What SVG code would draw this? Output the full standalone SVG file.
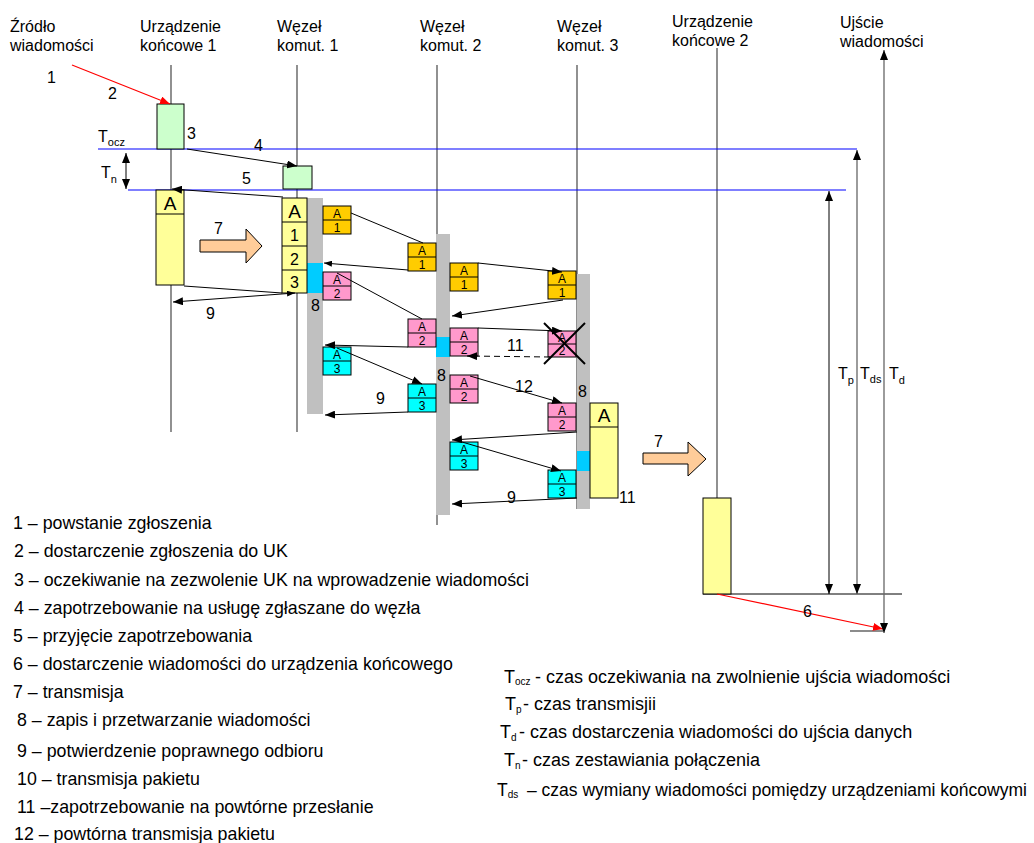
<svg xmlns="http://www.w3.org/2000/svg" width="1034" height="843" viewBox="0 0 1034 843">
  <style>
    text { font-family: "Liberation Sans", Arial, sans-serif; fill: #000; }
    .lbl { font-size: 16px; }
    .num { font-size: 16px; }
    .leg { font-size: 17.8px; }
    .leg2 { font-size: 18px; }
    .leg3 { font-size: 17.5px; }
    .sub { font-size: 11px; }
    .lsub { font-size: 10px; }
    .big { font-size: 19px; text-anchor: middle; }
    .mid { font-size: 16px; text-anchor: middle; }
    .pk { font-size: 12px; text-anchor: middle; }
    .life { stroke: #555; stroke-width: 1.3; fill: none; }
    .blue { stroke: #0000ff; stroke-width: 1.2; fill: none; }
    .ln { stroke: #000; stroke-width: 1; fill: none; }
    .gline { stroke: #666; stroke-width: 1.3; fill: none; }
    .red { stroke: #ff0000; stroke-width: 1.2; fill: none; }
    .box { stroke: #000; stroke-width: 1; }
    .green { fill: #ccffcc; }
    .yellow { fill: #ffff99; }
    .orange { fill: #ffcc00; }
    .pink { fill: #ff99cc; }
    .cyan { fill: #00ffff; }
    .bar { fill: #c0c0c0; }
    .barhi { fill: #00ccff; }
    .arrow7 { fill: #ffcc99; stroke: #000; stroke-width: 1; }
  </style>
  <defs>
    <marker id="ah" viewBox="0 0 10 8" refX="10" refY="4" markerWidth="10" markerHeight="8" markerUnits="userSpaceOnUse" orient="auto-start-reverse">
      <path d="M0,0 L10,4 L0,8 z" fill="#000"/>
    </marker>
    <marker id="ahs" viewBox="0 0 8 6" refX="8" refY="3" markerWidth="8" markerHeight="6" markerUnits="userSpaceOnUse" orient="auto-start-reverse">
      <path d="M0,0 L8,3 L0,6 z" fill="#000"/>
    </marker>
    <marker id="ahr" viewBox="0 0 10 8" refX="10" refY="4" markerWidth="10" markerHeight="8" markerUnits="userSpaceOnUse" orient="auto">
      <path d="M0,0 L10,4 L0,8 z" fill="#ff0000"/>
    </marker>
  </defs>

  <!-- column headings -->
  <g id="headings" class="lbl">
    <text x="10" y="32" class="lbl">Źródło</text>
    <text x="10" y="51" class="lbl">wiadomości</text>
    <text x="140" y="32" class="lbl">Urządzenie</text>
    <text x="140" y="51" class="lbl">końcowe 1</text>
    <text x="277" y="32" class="lbl">Węzeł</text>
    <text x="277" y="51" class="lbl">komut. 1</text>
    <text x="420" y="32" class="lbl">Węzeł</text>
    <text x="420" y="51" class="lbl">komut. 2</text>
    <text x="557" y="32" class="lbl">Węzeł</text>
    <text x="557" y="51" class="lbl">komut. 3</text>
    <text x="672" y="27" class="lbl">Urządzenie</text>
    <text x="672" y="46" class="lbl">końcowe 2</text>
    <text x="840" y="28" class="lbl">Ujście</text>
    <text x="840" y="47" class="lbl">wiadomości</text>
  </g>

  <!-- lifelines -->
  <g id="lifelines">
    <line class="life" x1="171" y1="65" x2="171" y2="432"/>
    <line class="life" x1="297" y1="65" x2="297" y2="432"/>
    <line class="life" x1="437" y1="65" x2="437" y2="525"/>
    <line class="life" x1="577" y1="65" x2="577" y2="509"/>
    <line class="life" x1="717" y1="48" x2="717" y2="498"/>
  </g>

  <!-- time reference lines -->
  <g id="time-lines">
    <line class="blue" x1="98" y1="149" x2="857" y2="149"/>
    <line class="blue" x1="128" y1="190" x2="846" y2="190"/>
    <line class="ln" x1="703" y1="594" x2="902" y2="594"/>
    <line class="gline" x1="850" y1="631" x2="883" y2="631"/>
  </g>

  <!-- source / end device 1 -->
  <g id="end-device-1">
    <rect class="box green" x="157" y="104" width="27" height="45"/>
    <rect class="box yellow" x="156" y="190" width="28" height="95"/>
    <line class="ln" x1="156" y1="214" x2="184" y2="214"/>
    <text class="big" x="170" y="210">A</text>
  </g>

  <!-- switching node 1 -->
  <g id="node-1">
    <rect class="box green" x="283" y="166" width="29" height="23"/>
    <rect class="bar" x="307" y="198" width="16" height="216"/>
    <rect class="barhi" x="307" y="263" width="16" height="30"/>
    <rect class="box yellow" x="282" y="198" width="25" height="95"/>
    <line class="ln" x1="282" y1="222" x2="307" y2="222"/>
    <line class="ln" x1="282" y1="246" x2="307" y2="246"/>
    <line class="ln" x1="282" y1="270" x2="307" y2="270"/>
    <text class="big" x="294.5" y="218">A</text>
    <text class="mid" x="294.5" y="241">1</text>
    <text class="mid" x="294.5" y="265">2</text>
    <text class="mid" x="294.5" y="288">3</text>
    <g id="n1-p1">
      <rect class="box orange" x="323" y="206" width="28" height="28"/>
      <line class="ln" x1="323" y1="220" x2="351" y2="220"/>
      <text class="pk" x="337" y="218">A</text>
      <text class="pk" x="337" y="232">1</text>
    </g>
    <g id="n1-p2">
      <rect class="box pink" x="323" y="272" width="28" height="28"/>
      <line class="ln" x1="323" y1="286" x2="351" y2="286"/>
      <text class="pk" x="337" y="284">A</text>
      <text class="pk" x="337" y="298">2</text>
    </g>
    <g id="n1-p3">
      <rect class="box cyan" x="323" y="347" width="28" height="28"/>
      <line class="ln" x1="323" y1="361" x2="351" y2="361"/>
      <text class="pk" x="337" y="359">A</text>
      <text class="pk" x="337" y="373">3</text>
    </g>
  </g>

  <!-- switching node 2 -->
  <g id="node-2">
    <rect class="bar" x="436" y="234" width="14" height="281"/>
    <rect class="barhi" x="436" y="337" width="14" height="20"/>
    <g id="n2-in-p1">
      <rect class="box orange" x="408" y="243" width="28" height="28"/>
      <line class="ln" x1="408" y1="257" x2="436" y2="257"/>
      <text class="pk" x="422" y="255">A</text>
      <text class="pk" x="422" y="269">1</text>
    </g>
    <g id="n2-in-p2">
      <rect class="box pink" x="408" y="319" width="28" height="28"/>
      <line class="ln" x1="408" y1="333" x2="436" y2="333"/>
      <text class="pk" x="422" y="331">A</text>
      <text class="pk" x="422" y="345">2</text>
    </g>
    <g id="n2-in-p3">
      <rect class="box cyan" x="408" y="384" width="28" height="28"/>
      <line class="ln" x1="408" y1="398" x2="436" y2="398"/>
      <text class="pk" x="422" y="396">A</text>
      <text class="pk" x="422" y="410">3</text>
    </g>
    <g id="n2-out-p1">
      <rect class="box orange" x="450" y="263" width="28" height="28"/>
      <line class="ln" x1="450" y1="277" x2="478" y2="277"/>
      <text class="pk" x="464" y="275">A</text>
      <text class="pk" x="464" y="289">1</text>
    </g>
    <g id="n2-out-p2">
      <rect class="box pink" x="450" y="328" width="28" height="28"/>
      <line class="ln" x1="450" y1="342" x2="478" y2="342"/>
      <text class="pk" x="464" y="340">A</text>
      <text class="pk" x="464" y="354">2</text>
    </g>
    <g id="n2-out-p2-repeat">
      <rect class="box pink" x="450" y="375" width="28" height="28"/>
      <line class="ln" x1="450" y1="389" x2="478" y2="389"/>
      <text class="pk" x="464" y="387">A</text>
      <text class="pk" x="464" y="401">2</text>
    </g>
    <g id="n2-out-p3">
      <rect class="box cyan" x="450" y="442" width="28" height="28"/>
      <line class="ln" x1="450" y1="456" x2="478" y2="456"/>
      <text class="pk" x="464" y="454">A</text>
      <text class="pk" x="464" y="468">3</text>
    </g>
  </g>

  <!-- switching node 3 -->
  <g id="node-3">
    <rect class="bar" x="577" y="274" width="13" height="235"/>
    <rect class="barhi" x="577" y="451" width="13" height="20"/>
    <g id="n3-p1">
      <rect class="box orange" x="548" y="271" width="28" height="28"/>
      <line class="ln" x1="548" y1="285" x2="576" y2="285"/>
      <text class="pk" x="562" y="283">A</text>
      <text class="pk" x="562" y="297">1</text>
    </g>
    <g id="n3-p2-lost">
      <rect class="box pink" x="548" y="331" width="28" height="26"/>
      <line class="ln" x1="548" y1="344" x2="576" y2="344"/>
      <text class="pk" x="562" y="342">A</text>
      <text class="pk" x="562" y="355">2</text>
      <line stroke="#000" stroke-width="2" x1="544" y1="323" x2="585" y2="364"/>
      <line stroke="#000" stroke-width="2" x1="544" y1="364" x2="585" y2="323"/>
    </g>
    <g id="n3-p2">
      <rect class="box pink" x="548" y="403" width="28" height="28"/>
      <line class="ln" x1="548" y1="417" x2="576" y2="417"/>
      <text class="pk" x="562" y="415">A</text>
      <text class="pk" x="562" y="429">2</text>
    </g>
    <g id="n3-p3">
      <rect class="box cyan" x="548" y="470" width="28" height="28"/>
      <line class="ln" x1="548" y1="484" x2="576" y2="484"/>
      <text class="pk" x="562" y="482">A</text>
      <text class="pk" x="562" y="496">3</text>
    </g>
    <rect class="box yellow" x="590" y="403" width="28" height="95"/>
    <line class="ln" x1="590" y1="427" x2="618" y2="427"/>
    <text class="big" x="604" y="422">A</text>
  </g>

  <!-- end device 2 -->
  <g id="end-device-2">
    <rect class="box yellow" x="703" y="498" width="28" height="96"/>
  </g>

  <!-- transmission arrows -->
  <g id="transmission">
    <polygon class="arrow7" points="200,240 246,240 246,229 262,246 246,263 246,252 200,252"/>
    <polygon class="arrow7" points="643,453 688,453 688,442 706,459 688,476 688,464 643,464"/>
  </g>

  <!-- connectors -->
  <g id="connectors">
    <line class="red" x1="72" y1="65" x2="170" y2="104" marker-end="url(#ahr)"/>
    <line class="ln" x1="126" y1="153" x2="126" y2="189" marker-start="url(#ah)" marker-end="url(#ah)"/>
    <line class="ln" x1="187" y1="149" x2="297" y2="166" marker-end="url(#ah)"/>
    <line class="ln" x1="283" y1="197" x2="172" y2="189" marker-end="url(#ah)"/>
    <line class="ln" x1="184" y1="286" x2="282" y2="293"/>
    <line class="ln" x1="295" y1="293" x2="173" y2="302" marker-start="url(#ahs)" marker-end="url(#ah)"/>

    <line class="ln" x1="351" y1="213" x2="423" y2="243"/>
    <line class="ln" x1="408" y1="270" x2="324" y2="263" marker-end="url(#ahs)"/>
    <line class="ln" x1="337" y1="273" x2="422" y2="319"/>
    <line class="ln" x1="408" y1="347" x2="325" y2="345" marker-end="url(#ah)"/>
    <line class="ln" x1="337" y1="348" x2="422" y2="384" marker-end="url(#ah)"/>
    <line class="ln" x1="408" y1="412" x2="325" y2="415" marker-end="url(#ah)"/>

    <line class="ln" x1="478" y1="263" x2="562" y2="272" marker-end="url(#ah)"/>
    <line class="ln" x1="563" y1="300" x2="452" y2="316" marker-end="url(#ah)"/>
    <line class="ln" x1="478" y1="328" x2="562" y2="331" marker-end="url(#ah)"/>
    <line class="ln" x1="550" y1="357" x2="467" y2="356" stroke-dasharray="6,4" marker-end="url(#ah)"/>
    <line class="ln" x1="470" y1="376" x2="562" y2="403" marker-end="url(#ah)"/>
    <line class="ln" x1="577" y1="432" x2="452" y2="440" marker-end="url(#ah)"/>
    <line class="ln" x1="462" y1="442" x2="561" y2="471" marker-end="url(#ah)"/>
    <line class="ln" x1="577" y1="498" x2="452" y2="504" marker-end="url(#ah)"/>

    <line class="red" x1="717" y1="594" x2="883" y2="629" marker-end="url(#ahr)"/>
    <line class="ln" x1="829" y1="191" x2="829" y2="594" marker-start="url(#ah)" marker-end="url(#ah)"/>
    <line class="gline" x1="857" y1="150" x2="857" y2="594" marker-start="url(#ah)" marker-end="url(#ah)"/>
    <line class="gline" x1="884" y1="50" x2="884" y2="633" marker-start="url(#ah)" marker-end="url(#ah)"/>
  </g>

  <!-- step numbers and time labels -->
  <g id="labels">
    <text class="num" x="47" y="83">1</text>
    <text class="num" x="108" y="99">2</text>
    <text class="num" x="187" y="139">3</text>
    <text class="num" x="254" y="151">4</text>
    <text class="num" x="242" y="184">5</text>
    <text class="num" x="214" y="234">7</text>
    <text class="num" x="206" y="319">9</text>
    <text class="num" x="311" y="311">8</text>
    <text class="num" x="437" y="381">8</text>
    <text class="num" x="578" y="397">8</text>
    <text class="num" x="376" y="404">9</text>
    <text class="num" x="507" y="351">11</text>
    <text class="num" x="515" y="392">12</text>
    <text class="num" x="507" y="503">9</text>
    <text class="num" x="619" y="503">11</text>
    <text class="num" x="654" y="447">7</text>
    <text class="num" x="803" y="617">6</text>
    <text class="num" x="98" y="142">T<tspan class="sub" dy="4">ocz</tspan></text>
    <text class="num" x="101" y="178">T<tspan class="sub" dy="5">n</tspan></text>
    <text class="num" x="838" y="379">T<tspan class="sub" dy="5">p</tspan></text>
    <text class="num" x="860" y="379">T<tspan class="sub" dy="4">ds</tspan></text>
    <text class="num" x="889" y="379">T<tspan class="sub" dy="5">d</tspan></text>
  </g>

  <!-- legend: steps -->
  <g id="legend-steps" class="leg">
    <text class="leg" x="13" y="529">1 – powstanie zgłoszenia</text>
    <text class="leg" x="14" y="557">2 – dostarczenie zgłoszenia do UK</text>
    <text class="leg" x="14" y="586">3 – oczekiwanie na zezwolenie UK na wprowadzenie wiadomości</text>
    <text class="leg" x="14" y="614">4 – zapotrzebowanie na usługę zgłaszane do węzła</text>
    <text class="leg" x="13" y="642">5 – przyjęcie zapotrzebowania</text>
    <text class="leg" x="13" y="670">6 – dostarczenie wiadomości do urządzenia końcowego</text>
    <text class="leg" x="13" y="698">7 – transmisja</text>
    <text class="leg" x="17" y="726">8 – zapis i przetwarzanie wiadomości</text>
    <text class="leg" x="17" y="757">9 – potwierdzenie poprawnego odbioru</text>
    <text class="leg" x="17" y="785">10 – transmisja pakietu</text>
    <text class="leg" x="17" y="813">11 –zapotrzebowanie na powtórne przesłanie</text>
    <text class="leg" x="14" y="840">12 – powtórna transmisja pakietu</text>
  </g>

  <!-- legend: time intervals -->
  <g id="legend-times" class="leg2">
    <text class="leg2" x="504" y="683">T<tspan class="lsub" dy="2">ocz</tspan><tspan x="535" dy="-2">- czas oczekiwania na zwolnienie ujścia wiadomości</tspan></text>
    <text class="leg2" x="505" y="710">T<tspan class="lsub" dy="3">p</tspan><tspan x="523" dy="-3">- czas transmisjii</tspan></text>
    <text class="leg2" x="500" y="738">T<tspan class="lsub" dy="3">d</tspan><tspan x="519" dy="-3">- czas dostarczenia wiadomości do ujścia danych</tspan></text>
    <text class="leg2" x="504" y="766">T<tspan class="lsub" dy="3">n</tspan><tspan x="522" dy="-3">- czas zestawiania połączenia</tspan></text>
    <text class="leg3" x="497" y="796">T<tspan class="lsub" dy="2">ds</tspan><tspan x="527" dy="-2">– czas wymiany wiadomości pomiędzy urządzeniami końcowymi</tspan></text>
  </g>
</svg>
